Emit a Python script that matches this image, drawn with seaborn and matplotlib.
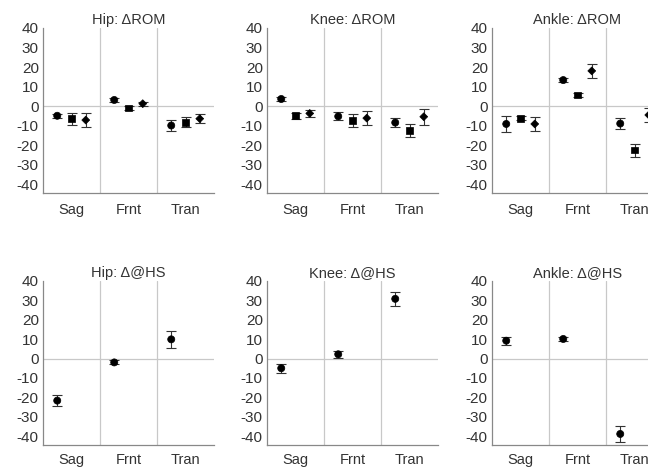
import numpy as np
import pandas as pd
import matplotlib
matplotlib.use("Agg")
import matplotlib.pyplot as plt
import seaborn as sns

# ---------------- data ----------------
planes = ["Sag", "Frnt", "Tran"]
conditions = ["C1", "C2", "C3"]
markers = {"C1": "o", "C2": "s", "C3": "D"}
marker_sizes = {"C1": 26, "C2": 24, "C3": 16}

# Delta ROM: rows = plane (Sag, Frnt, Tran), cols = condition
hip_rom_mean = [[-5.0, -6.5, -7.2], [3.1, -1.0, 1.2], [-10.0, -8.4, -6.5]]
hip_rom_err = [[1.1, 3.0, 3.7], [1.2, 1.0, 1.0], [2.6, 2.6, 2.4]]
knee_rom_mean = [[3.6, -5.0, -3.8], [-5.3, -7.3, -6.2], [-8.5, -12.6, -5.5]]
knee_rom_err = [[1.0, 1.5, 2.0], [2.1, 3.4, 3.5], [2.4, 3.5, 4.0]]
ankle_rom_mean = [[-9.2, -6.3, -9.2], [13.3, 5.6, 18.0], [-9.0, -22.6, -4.6]]
ankle_rom_err = [[3.9, 1.0, 3.8], [1.0, 1.2, 3.4], [2.6, 3.3, 3.7]]

# Delta @HS: one value per plane
hip_hs_mean = [-21.7, -2.0, 9.9]
hip_hs_err = [2.7, 1.0, 4.3]
knee_hs_mean = [-5.0, 2.2, 30.8]
knee_hs_err = [2.4, 1.7, 3.7]
ankle_hs_mean = [9.2, 10.1, -38.9]
ankle_hs_err = [2.0, 1.2, 4.2]

yticks = [40, 30, 20, 10, 0, -10, -20, -30, -40]

panels = [
    ("Hip: \u0394ROM", hip_rom_mean, hip_rom_err),
    ("Knee: \u0394ROM", knee_rom_mean, knee_rom_err),
    ("Ankle: \u0394ROM", ankle_rom_mean, ankle_rom_err),
    ("Hip: \u0394@HS", [[v] for v in hip_hs_mean], [[e] for e in hip_hs_err]),
    ("Knee: \u0394@HS", [[v] for v in knee_hs_mean], [[e] for e in knee_hs_err]),
    ("Ankle: \u0394@HS", [[v] for v in ankle_hs_mean], [[e] for e in ankle_hs_err]),
]

# ---------------- style ----------------
sns.set_style("white")
plt.rcParams["font.family"] = ["Liberation Sans", "DejaVu Sans"]
plt.rcParams["axes.unicode_minus"] = False

fig = plt.figure(figsize=(6.48, 4.70), dpi=100)
W, H = 648.0, 470.0
lefts = [43, 267, 492]
width_px = 171
rows = [(28, 193), (281, 445)]

offsets = [0.25, 0.5, 0.75]

for i, (title, means, errs) in enumerate(panels):
    r, c = divmod(i, 3)
    top, bot = rows[r]
    ax = fig.add_axes([lefts[c] / W, 1 - bot / H, width_px / W, (bot - top) / H])

    recs = []
    for p, plane in enumerate(planes):
        for k in range(len(means[p])):
            recs.append({"plane": plane, "cond": conditions[k],
                         "x": p + offsets[k], "y": means[p][k], "err": errs[p][k]})
    df = pd.DataFrame(recs)

    ax.axhline(0, color="#c8c8c8", lw=0.9, zorder=0)
    for xv in (1, 2):
        ax.axvline(xv, color="#c8c8c8", lw=0.9, zorder=0)

    ax.errorbar(df["x"], df["y"], yerr=df["err"], fmt="none", ecolor="#333333",
                elinewidth=0.8, capsize=3.5, capthick=0.8, zorder=2)
    sns.scatterplot(data=df, x="x", y="y", style="cond", markers=markers,
                    size="cond", sizes=marker_sizes,
                    color="black", edgecolor="black", linewidth=0.5,
                    legend=False, ax=ax, zorder=3)

    ax.set_xlim(0, 3)
    ax.set_ylim(-44.6, 40)
    ax.set_xticks([0.5, 1.5, 2.5])
    ax.set_xticklabels(planes)
    ax.set_yticks(yticks)
    ax.set_yticklabels([str(v) for v in yticks])
    ax.set_xlabel("")
    ax.set_ylabel("")
    ax.tick_params(axis="x", direction="in", length=3, width=0.6, color="#888888",
                   pad=7 if r == 0 else 5.5, labelsize=10.5, labelcolor="#333333")
    ax.tick_params(axis="y", direction="in", length=0, pad=3,
                   labelsize=11, labelcolor="#333333")
    for s in ("top", "right"):
        ax.spines[s].set_visible(False)
    for s in ("left", "bottom"):
        ax.spines[s].set_color("#888888")
        ax.spines[s].set_linewidth(0.9)
    ax.set_title(title, fontsize=10.5, color="#333333", pad=3)

fig.savefig("out.png", dpi=100)
